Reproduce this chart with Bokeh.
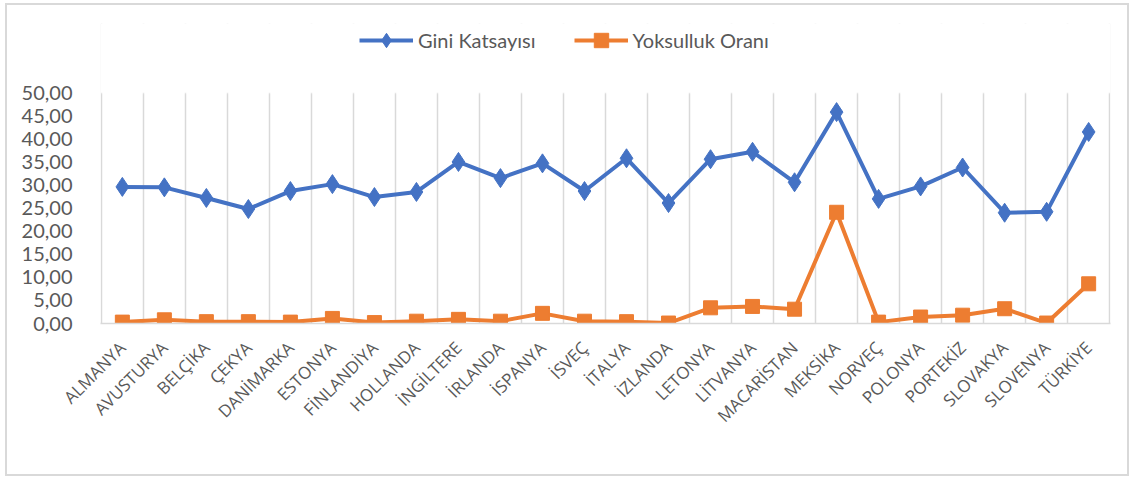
from bokeh.plotting import figure
from bokeh.models import (FixedTicker, CustomJSTickFormatter, Legend, LegendItem, Range1d,
                          BoxAnnotation)
from bokeh.embed import file_html
from bokeh.resources import INLINE
import math

countries = ["ALMANYA", "AVUSTURYA", "BELÇİKA", "ÇEKYA", "DANİMARKA", "ESTONYA",
             "FİNLANDİYA", "HOLLANDA", "İNGİLTERE", "İRLANDA", "İSPANYA", "İSVEÇ",
             "İTALYA", "İZLANDA", "LETONYA", "LİTVANYA", "MACARİSTAN", "MEKSİKA",
             "NORVEÇ", "POLONYA", "PORTEKİZ", "SLOVAKYA", "SLOVENYA", "TÜRKİYE"]
gini = [29.6, 29.5, 27.2, 24.8, 28.7, 30.2, 27.4, 28.5, 35.0, 31.5, 34.7, 28.7,
        35.8, 26.1, 35.6, 37.2, 30.6, 45.8, 27.0, 29.7, 33.8, 24.0, 24.2, 41.5]
poverty = [0.3, 0.8, 0.4, 0.4, 0.3, 1.1, 0.2, 0.5, 0.9, 0.5, 2.2, 0.5,
           0.4, 0.1, 3.4, 3.7, 3.1, 24.1, 0.3, 1.4, 1.8, 3.2, 0.1, 8.6]
y_ticks = [0, 5, 10, 15, 20, 25, 30, 35, 40, 45, 50]

xs = [i + 0.5 for i in range(len(countries))]

p = figure(width=1124, height=473, output_backend="svg", toolbar_location=None,
           x_range=Range1d(-0.02, len(countries) + 0.02), y_range=Range1d(0, 65),
           min_border_left=93, min_border_right=21, min_border_top=18,
           min_border_bottom=155)
p.styles = {"border": "2px solid #d9d9d9", "box-sizing": "border-box",
            "margin-left": "5px", "margin-top": "3px"}
p.outline_line_color = None
p.background_fill_color = "white"
p.border_fill_color = "white"

# axes
p.xaxis.ticker = FixedTicker(ticks=xs)
p.xaxis.major_label_overrides = {x: c for x, c in zip(xs, countries)}
p.xaxis.major_label_orientation = math.pi / 4
p.xaxis.major_label_text_font = "Open Sans"
p.xaxis.major_label_text_font_size = "17px"
p.xaxis.major_label_text_color = "#595959"
p.xaxis.axis_line_color = "#d9d9d9"
p.xaxis.axis_line_width = 1.5
p.xaxis.major_tick_line_color = None
p.xaxis.minor_tick_line_color = None
p.xaxis.major_label_standoff = 15

p.yaxis.ticker = FixedTicker(ticks=y_ticks)
p.yaxis.formatter = CustomJSTickFormatter(code="return tick.toFixed(2).replace('.', ',');")
p.yaxis.major_label_text_font = "Lato"
p.yaxis.major_label_text_font_size = "20px"
p.yaxis.major_label_text_color = "#595959"
p.yaxis.axis_line_color = None
p.yaxis.major_tick_line_color = None
p.yaxis.minor_tick_line_color = None
p.yaxis.major_label_standoff = 22

p.ygrid.grid_line_color = None
p.xgrid.ticker = FixedTicker(ticks=list(range(len(countries) + 1)))
p.xgrid.grid_line_color = "#d9d9d9"
p.xgrid.grid_line_width = 1.5

# hide gridlines above the 50 line (space reserved for the legend)
p.add_layout(BoxAnnotation(bottom=50, fill_color="white", fill_alpha=1.0,
                           line_color="white", line_width=3, level="glyph"))

blue = "#4472C4"
orange = "#ED7D31"
l1 = p.line(xs, gini, line_color=blue, line_width=4)
m1 = p.scatter(xs, gini, marker="diamond", size=19, fill_color=blue, line_color=blue)
l2 = p.line(xs, poverty, line_color=orange, line_width=4)
m2 = p.scatter(xs, poverty, marker="square", size=14, fill_color=orange, line_color=orange)

legend = Legend(items=[LegendItem(label="Gini Katsayısı", renderers=[l1, m1]),
                       LegendItem(label="Yoksulluk Oranı", renderers=[l2, m2])],
                orientation="horizontal", location=(259, 265),
                label_text_font="Lato", label_text_font_size="20px",
                label_text_color="#595959", glyph_width=54, glyph_height=36,
                label_standoff=5, spacing=38, border_line_color=None,
                background_fill_alpha=0, padding=0, margin=0)
p.add_layout(legend, "center")

open("out.html", "w").write(file_html(p, INLINE))
